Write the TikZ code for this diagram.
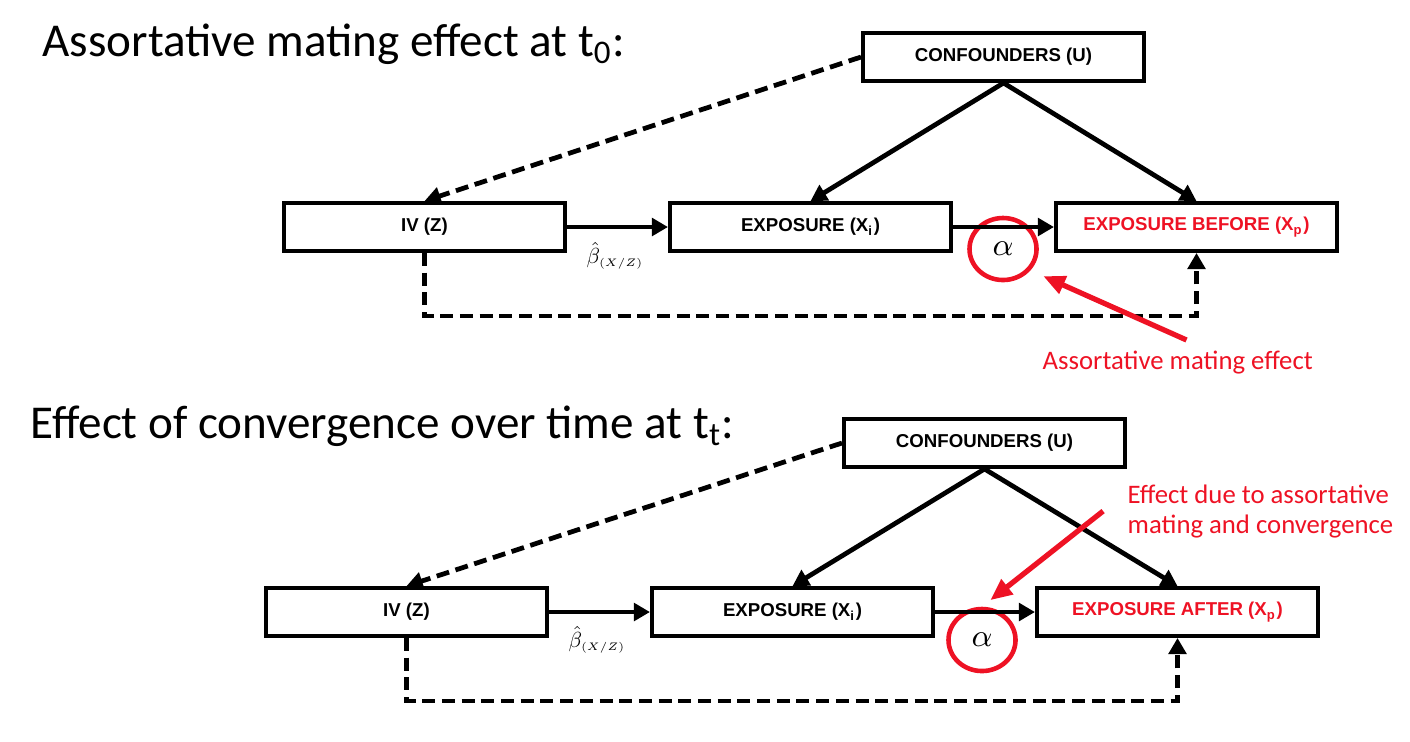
\documentclass[tikz,border=0pt]{standalone}
\usepackage{fontspec}
\setmainfont{Carlito}
\newfontfamily\boxfont{Liberation Sans}
\usetikzlibrary{arrows.meta,shapes.geometric}
\definecolor{matered}{RGB}{238,18,36}
\newcommand{\betalabel}{\scalebox{0.62}{$\hat{\beta}_{\scriptscriptstyle(X/Z)}$}}

\begin{document}
\begin{tikzpicture}
	[
	x=0.01cm, y=-0.01cm,
	box/.style={rectangle,draw=black,line width=1.1pt,minimum width=2.81cm,minimum height=0.48cm,inner sep=0pt,
		font=\boxfont\bfseries\fontsize{5.3}{6}\selectfont},
	title/.style={anchor=base west,inner sep=0pt,font=\fontsize{13.4}{16}\selectfont},
	note/.style={text=matered,inner sep=0pt,anchor=base west,font=\fontsize{7.6}{8.5}\selectfont},
	coef/.style={ellipse,draw=matered,line width=1.3pt,minimum width=0.67cm,minimum height=0.62cm,inner sep=0pt,
		font=\fontsize{9}{10}\selectfont},
	beta/.style={inner sep=0pt},
	arrow/.style={
           -{Triangle[length=4.6pt,width=5pt]},
           line width=1.35pt},
	dasharrow/.style={arrow,dash pattern=on 3.7pt off 1.9pt},
	redarrow/.style={
           -{Triangle[length=6.2pt,width=5.2pt]},
           line width=1.5pt,
           draw=matered}
	]
		\useasboundingbox (0,0) rectangle (1410,741);

		% titles
		\node[title] (title1) at (42,56) {Assortative mating effect at t\textsubscript{0}:};
		\node[title] (title2) at (30,438) {Effect of convergence over time at t\textsubscript{t}:};

		% nodes at t0
		\node[box] (conf1) at 		(1003.5, 57) {CONFOUNDERS (U)};
		\node[box] (iv1) at 		( 424.5,227) {IV (Z)};
		\node[box] (exp1) at 		( 810.5,227) {EXPOSURE (X\textsubscript{i})};
		\node[box,text=matered] (xp1) at 	(1196.5,227) {EXPOSURE BEFORE (X\textsubscript{p})};
		\node[coef] (alpha1) at 	(1003,249) {$\alpha$};
		\node[beta] (beta1) at 		( 615,256) {\betalabel};
		\node[note] (note1) at 		(1042,369) {Assortative mating effect};

		% nodes at tt
		\node[box] (conf2) at 		( 984.5,443) {CONFOUNDERS (U)};
		\node[box] (iv2) at 		( 406.5,612) {IV (Z)};
		\node[box] (exp2) at 		( 792.5,612) {EXPOSURE (X\textsubscript{i})};
		\node[box,text=matered] (xp2) at 	(1177.5,612) {EXPOSURE AFTER (X\textsubscript{p})};
		\node[coef] (alpha2) at 	( 982,640) {$\alpha$};
		\node[beta] (beta2) at 		( 597,640) {\betalabel};
		\node[note,align=left] (note2) at (1127,533) {Effect due to assortative\\mating and convergence};

		% straight paths
		\foreach \n in {1,2} {
			\draw[arrow] (conf\n.south) -- (exp\n.north);
			\draw[arrow] (conf\n.south) -- (xp\n.north);
			\draw[arrow] (iv\n.east) -- (exp\n.west);
			\draw[arrow] (exp\n.east) -- (xp\n.west);
			\draw[dasharrow] (conf\n.west) -- (iv\n.north);
		}

		% dashed paths below
		\draw[dasharrow] (iv1.south) -- ++(0,63) -| (xp1.south);
		\draw[dasharrow] (iv2.south) -- ++(0,63) -| (xp2.south);

		% red pointers
		\draw[redarrow,shorten >=4pt] ([xshift=2.5pt,yshift=2.8pt]note1.north) -- (alpha1.-38);
		\draw[redarrow,shorten >=3pt] ([xshift=-6.8pt]note2.west) -- (alpha2.north);

	\end{tikzpicture}
\end{document}
